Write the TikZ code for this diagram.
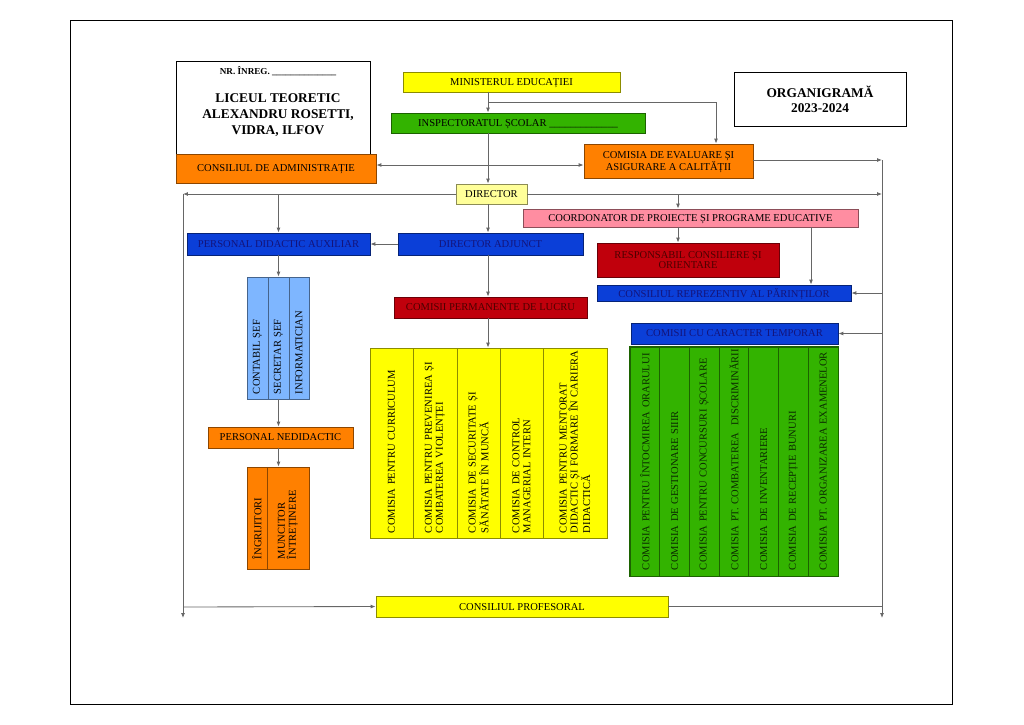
\documentclass[tikz,border=0pt]{standalone}
\usepackage{fontspec}
\setmainfont{Liberation Serif}
\usetikzlibrary{arrows.meta}

\definecolor{galben}{HTML}{FFFF00}
\definecolor{galbdeschis}{HTML}{FFFF99}
\definecolor{verde}{HTML}{33B300}
\definecolor{portocaliu}{HTML}{FF8000}
\definecolor{roz}{HTML}{FF8DA1}
\definecolor{albastru}{HTML}{0B3FD8}
\definecolor{albdeschis}{HTML}{7EB6FF}
\definecolor{rosu}{HTML}{C0000C}
\definecolor{bleumarin}{HTML}{14147A}
\definecolor{visiniu}{HTML}{4D0000}
\definecolor{verdeinchis}{HTML}{0B2B00}

\begin{document}
\begin{tikzpicture}[
			x = 0.025cm, y = -0.025cm,
			every node/.style = {font=\fontsize{7.5}{7.8}\selectfont, inner sep=0pt},
			box/.style = {draw=#1!55!black, fill=#1, line width=.6pt, align=center, text depth=0pt},
			frame/.style = {draw=black, line width=.6pt, align=center},
			sz/.style 2 args = {minimum width=#1*0.025cm, minimum height=#2*0.025cm},
			vcol/.code n args = {3}{%
				\pgfmathsetmacro\vtw{(#2-2*#3)*0.025}%
				\pgfmathsetmacro\vpad{#3*0.025}%
				\tikzset{rotate=90, minimum width=#2*0.025cm, minimum height=#1*0.025cm,
					inner xsep=\vpad cm, inner ysep=0pt, text width=\vtw cm, align=left, text depth=}},
			yellowbox/.style = {box=galben},
			orangebox/.style = {box=portocaliu},
			greenbox/.style = {box=verde, text=verdeinchis},
			bluebox/.style = {box=albastru, text=bleumarin},
			redbox/.style = {box=rosu, text=visiniu},
			link/.style = {draw=black!60, line width=.6pt},
			>={Latex[length=3.5pt,width=2.8pt]}
		]

			\useasboundingbox (0,0) rectangle (1024,724);
			\draw[line width=.6pt] (70,20) rectangle (952,704);

			% header
			\node[frame, sz={194}{93}] (hdr) at (273,107.5) {};
			\node[font=\bfseries\fontsize{6.5}{7}\selectfont] (nr) at (278,71) {NR. ÎNREG. \_\_\_\_\_\_\_\_\_\_\_\_\_\_};
			\node[font=\bfseries\fontsize{9.5}{11.4}\selectfont, align=center] (sch) at (278,115) {LICEUL TEORETIC\\ALEXANDRU ROSETTI,\\VIDRA, ILFOV};
			\node[frame, sz={172}{54}, font=\bfseries\fontsize{9.5}{10.7}\selectfont] (org) at (820,99) {ORGANIGRAMĂ\\2023-2024};

			% boxes
			\node[yellowbox, sz={217}{20}] (min) at (511.5,82) {MINISTERUL EDUCAȚIEI};
			\node[greenbox, text=black, sz={254}{20}] (insp) at (518,123) {INSPECTORATUL ȘCOLAR \_\_\_\_\_\_\_\_\_\_\_\_\_};
			\node[orangebox, sz={200}{29}] (ca) at (276,168.5) {CONSILIUL DE ADMINISTRAȚIE};
			\node[orangebox, sz={169}{34}] (ceac) at (668.5,161) {COMISIA DE EVALUARE ȘI\\ASIGURARE A CALITĂȚII};
			\node[box=galbdeschis, sz={71}{20}] (dir) at (491.5,194) {DIRECTOR};
			\node[box=roz, sz={335}{18}] (coord) at (690.5,218) {COORDONATOR DE PROIECTE ȘI PROGRAME EDUCATIVE};
			\node[bluebox, sz={183}{22}] (pda) at (278.5,244) {PERSONAL DIDACTIC AUXILIAR};
			\node[bluebox, sz={185}{22}] (da) at (490.5,244) {DIRECTOR ADJUNCT};
			\node[redbox, sz={182}{34}] (resp) at (688,260) {RESPONSABIL CONSILIERE ȘI\\ORIENTARE};
			\node[bluebox, sz={254}{16}] (crp) at (724,293) {CONSILIUL REPREZENTIV AL PĂRINȚILOR};
			\node[redbox, sz={193}{21}] (cpl) at (490.5,307.5) {COMISII PERMANENTE DE LUCRU};
			\node[bluebox, sz={207}{21}] (cct) at (734.5,333.5) {COMISII CU CARACTER TEMPORAR};
			\node[orangebox, sz={145}{21}] (pnd) at (280.5,437.5) {PERSONAL NEDIDACTIC};
			\node[yellowbox, sz={292}{21}] (cp) at (522,606.5) {CONSILIUL PROFESORAL};

			% auxiliary staff
			\node[box=albdeschis, vcol={21}{122}{5}] (lb1) at (257.5,338) {CONTABIL ȘEF};
			\node[box=albdeschis, vcol={21}{122}{5}] (lb2) at (278.5,338) {SECRETAR ȘEF};
			\node[box=albdeschis, vcol={20}{122}{5}] (lb3) at (299,338) {INFORMATICIAN};
			\node[orangebox, vcol={20}{102}{10}] (oc1) at (257,518) {ÎNGRIJITORI};
			\node[orangebox, vcol={42}{102}{10}] (oc2) at (288,518) {MUNCITOR\\ÎNTREȚINERE};

			% permanent commissions
			\node[yellowbox, vcol={43}{190}{5}] (yc1) at (391.5,443) {\mbox{COMISIA PENTRU CURRICULUM}};
			\node[yellowbox, vcol={44}{190}{5}] (yc2) at (435,443) {\mbox{COMISIA PENTRU PREVENIREA ȘI}\\COMBATEREA VIOLENȚEI};
			\node[yellowbox, vcol={43}{190}{5}] (yc3) at (478.5,443) {COMISIA DE SECURITATE ȘI\\SĂNĂTATE ÎN MUNCĂ};
			\node[yellowbox, vcol={43}{190}{5}] (yc4) at (521.5,443) {COMISIA DE CONTROL\\MANAGERIAL INTERN};
			\node[yellowbox, vcol={64}{190}{5}] (yc5) at (575,443) {COMISIA PENTRU MENTORAT\\\mbox{DIDACTIC ȘI FORMARE ÎN CARIERA}\\DIDACTICĂ};

			% temporary commissions
			\begin{scope}
				\clip (630,347) rectangle (838,576);
				\foreach \t [count=\i] in {COMISIA PENTRU ÎNTOCMIREA ORARULUI, COMISIA DE GESTIONARE SIIIR,
						COMISIA PENTRU CONCURSURI ȘCOLARE, COMISIA PT. COMBATEREA\ \ DISCRIMINĂRII,
						COMISIA DE INVENTARIERE, COMISIA DE RECEPȚIE BUNURI, COMISIA PT. ORGANIZAREA EXAMENELOR}
					\node[greenbox, vcol={29.71}{229}{6}] (gc\i) at ({630+29.71*(\i-0.5)},461.5) {\mbox{\t}};
			\end{scope}
			\draw[draw=verde!55!black, line width=.6pt] (gc1.north west) rectangle (gc7.south east);

			% connectors
			\coordinate (spine) at (488,0);
			\coordinate (lbus) at (183,0);
			\coordinate (rbus) at (882,0);
			\coordinate (btm) at (0,618);
			\coordinate (tapM) at (716,102);
			\coordinate (tapC) at (678,0);
			\coordinate (tapP) at (811,0);
			\coordinate (rowCA) at (0,165);
			\coordinate (rowCE) at (0,160);
			\coordinate (rowCP) at (0,607);

			\draw[link,->] (min.south -| spine) -- (insp.north -| spine);
			\draw[link,->] (tapM -| spine) -- (tapM) -- (tapM |- ceac.north);
			\draw[link,->] (insp.south -| spine) -- (dir.north -| spine);
			\draw[link,<->] (ca.east |- rowCA) -- (ceac.west |- rowCA);
			\draw[link,->] (ceac.east |- rowCE) -- (rbus |- rowCE);
			\draw[link,->] (rbus |- rowCE) -- (rbus |- btm);
			\draw[link,->] (dir.east) -- (dir.east -| rbus);
			\draw[link,->] (dir.west) -- (dir.west -| lbus);
			\draw[link,->] (lbus |- dir.west) -- (lbus |- btm);
			\draw[link,->] (dir.west -| pda) -- (pda.north);
			\draw[link,->] (dir.east -| tapC) -- (coord.north -| tapC);
			\draw[link,->] (dir.south -| spine) -- (da.north -| spine);
			\draw[link,->] (da.west) -- (pda.east);
			\draw[link,->] (da.south -| spine) -- (cpl.north -| spine);
			\draw[link,->] (cpl.south -| spine) -- (yc3.east -| spine);
			\draw[link,->] (pda.south -| lb2) -- (lb2.east);
			\draw[link,->] (lb2.west) -- (pnd.north -| lb2);
			\draw[link,->] (pnd.south -| lb2) -- (oc2.east -| lb2);
			\draw[link,->] (coord.south -| tapC) -- (resp.north -| tapC);
			\draw[link,->] (coord.south -| tapP) -- (crp.north -| tapP);
			\draw[link,->] (rbus |- crp.east) -- (crp.east);
			\draw[link,->] (rbus |- cct.east) -- (cct.east);
			\draw[link,->] (lbus |- rowCP) -- (cp.west);
			\draw[link] (cp.east) -- (rbus |- cp.east);

		\end{tikzpicture}
\end{document}
